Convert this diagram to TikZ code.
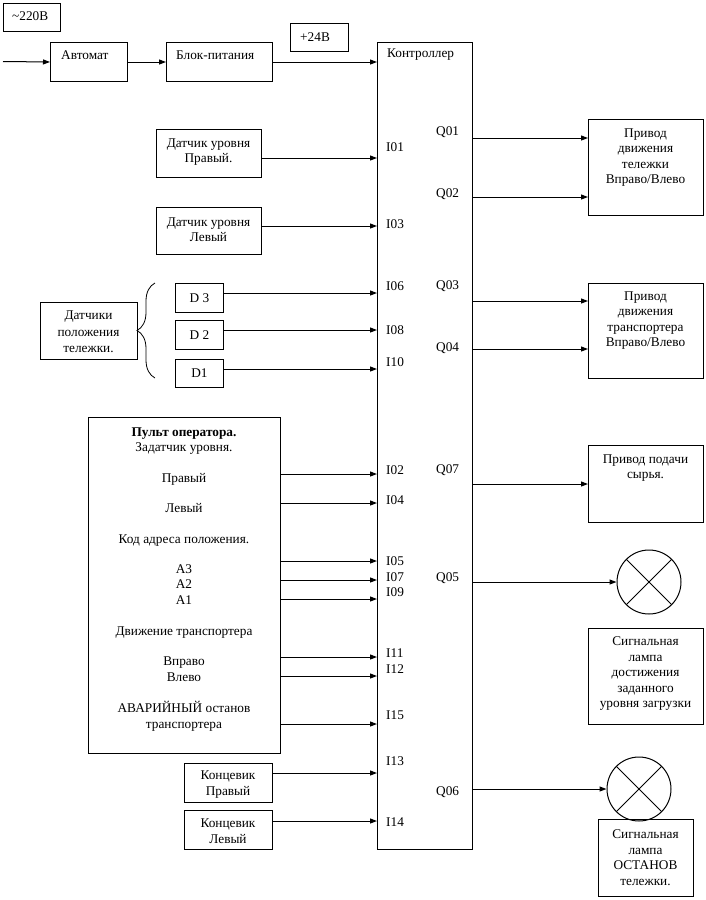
\documentclass[tikz,border=0pt]{standalone}
\usepackage{fontspec}
\setmainfont{Liberation Serif}
\usepackage{tikz}
\usetikzlibrary{arrows.meta, positioning, decorations.pathreplacing}

\tikzset{
  blk/.style={draw, line width=1pt, inner sep=0pt, anchor=north west},
  txt/.style={font=\fontsize{13.3}{15.5}\selectfont, inner sep=0pt, align=center},
  pin/.style={txt, anchor=west},
  arr/.style={line width=1pt, -{Triangle[length=7pt,width=5pt]}},
  lamp/.style={draw, line width=1pt, circle, minimum size=64pt, inner sep=0pt}
}

\begin{document}
\begin{tikzpicture}[x=1pt, y=-1pt]
  \useasboundingbox (0,0) rectangle (706,900);

  % Supply
  \node[blk, minimum width=57, minimum height=28] (v220) at (3,3) {};
  \node[txt, anchor=west] at (12,16) {\textasciitilde220В};
  \node[blk, minimum width=77, minimum height=39] (avt) at (50,42) {};
  \node[txt, anchor=west] at (61,55) {Автомат};
  \node[blk, minimum width=106, minimum height=39] (bp) at (166,42) {};
  \node[txt, anchor=west] at (176,55) {Блок-питания};
  \node[blk, minimum width=58, minimum height=28] (v24) at (290,23) {};
  \node[txt, anchor=west] at (300,37) {+24В};

  % Controller
  \node[blk, minimum width=95, minimum height=807] (ctrl) at (377,42) {};
  \node[txt, anchor=west] at (387,55) {Контроллер};

  \coordinate (mains) at (3,61.5);
  \draw[arr] (mains) -- (avt.west);
  \draw[arr] (avt.east) -- (bp.west);
  \draw[arr] (bp.east) -- (ctrl.west |- bp.east);

  % Level sensors
  \node[blk, minimum width=105, minimum height=48] (dup) at (156,129) {};
  \node[txt] at (208.5,152) {Датчик уровня\\Правый.};
  \node[blk, minimum width=105, minimum height=47] (dlv) at (156,207) {};
  \node[txt] at (208.5,229.5) {Датчик уровня\\Левый};
  \draw[arr] (dup.east |- 0,158) -- (ctrl.west |- 0,158);
  \draw[arr] (dlv.east |- 0,226) -- (ctrl.west |- 0,226);

  % Position sensors
  \node[blk, minimum width=97, minimum height=57] (dpol) at (40,302) {};
  \node[txt, font=\fontsize{13.3}{16.5}\selectfont] at (88.5,332) {Датчики\\положения\\тележки.};
  \node[blk, minimum width=48, minimum height=29] (d3) at (175,283) {};
  \node[txt] at (d3) {D 3};
  \node[blk, minimum width=48, minimum height=29] (d2) at (175,320) {};
  \node[txt] at (d2) {D 2};
  \node[blk, minimum width=48, minimum height=28] (d1) at (175,359) {};
  \node[txt] at (d1) {D1};
  \draw[line width=0.8pt, decorate, decoration={brace, amplitude=18pt}]
       (155,378) -- (155,283);
  \draw[arr] (d3.east |- 0,293) -- (ctrl.west |- 0,293);
  \draw[arr] (d2.east |- 0,330) -- (ctrl.west |- 0,330);
  \draw[arr] (d1.east |- 0,369) -- (ctrl.west |- 0,369);

  % Operator panel
  \node[blk, minimum width=192, minimum height=336] (pult) at (88,417) {};
  \node[txt, anchor=base, font=\fontsize{13.3}{15.5}\selectfont\bfseries] at (184,436) {Пульт оператора.};
  \foreach \t/\y in {Задатчик уровня./451, Правый/482, Левый/512,
                     Код адреса положения./543, A3/573, A2/588, A1/604,
                     Движение транспортера/635, Вправо/665, Влево/681,
                     АВАРИЙНЫЙ останов/712, транспортера/728}
    \node[txt, anchor=base] at (184,\y) {\t};
  \foreach \y in {474, 503, 561, 580, 599, 657, 676, 724}
    \draw[arr] (pult.east |- 0,\y) -- (ctrl.west |- 0,\y);

  % Limit switches
  \node[blk, minimum width=88, minimum height=39] (kpr) at (184,763) {};
  \node[txt] at (228,784.5) {Концевик\\Правый};
  \node[blk, minimum width=88, minimum height=39] (klv) at (184,810) {};
  \node[txt] at (228,831) {Концевик\\Левый};
  \draw[arr] (kpr.east |- 0,773) -- (ctrl.west |- 0,773);
  \draw[arr] (klv.east |- 0,821) -- (ctrl.west |- 0,821);

  % Input and output labels
  \foreach \t/\y in {I01/147, I03/224, I06/286, I08/330, I10/362, I02/470,
                     I04/500, I05/561, I07/577, I09/592, I11/653, I12/669,
                     I15/715, I13/761, I14/822}
    \node[pin] at (386,\y) {\t};
  \foreach \t/\y in {Q01/132, Q02/194, Q03/286, Q04/348, Q07/470,
                     Q05/578, Q06/792}
    \node[pin] at (436,\y) {\t};

  % Drives
  \node[blk, minimum width=115, minimum height=96] (prt) at (588,119) {};
  \node[txt] at (645.5,157.5) {Привод\\движения\\тележки\\Вправо/Влево};
  \node[blk, minimum width=115, minimum height=95] (prtr) at (588,283) {};
  \node[txt] at (645.5,320.5) {Привод\\движения\\транспортера\\Вправо/Влево};
  \node[blk, minimum width=115, minimum height=77] (prs) at (588,445) {};
  \node[txt] at (645.5,468) {Привод подачи\\сырья.};
  \draw[arr] (ctrl.east |- 0,138) -- (prt.west |- 0,138);
  \draw[arr] (ctrl.east |- 0,197) -- (prt.west |- 0,197);
  \draw[arr] (ctrl.east |- 0,301) -- (prtr.west |- 0,301);
  \draw[arr] (ctrl.east |- 0,349) -- (prtr.west |- 0,349);
  \draw[arr] (ctrl.east |- 0,484) -- (prs.west |- 0,484);

  % Signal lamps
  \node[lamp] (lamp1) at (649,582) {};
  \draw[line width=0.8pt] (lamp1.north east) -- (lamp1.south west)
                          (lamp1.north west) -- (lamp1.south east);
  \node[blk, minimum width=115, minimum height=96] (sig1) at (588,628) {};
  \node[txt] at (645.5,674) {Сигнальная\\лампа\\достижения\\заданного\\уровня загрузки};
  \draw[arr] (ctrl.east |- lamp1.west) -- (lamp1.west);

  \node[lamp] (lamp2) at (639,789) {};
  \draw[line width=0.8pt] (lamp2.north east) -- (lamp2.south west)
                          (lamp2.north west) -- (lamp2.south east);
  \node[blk, minimum width=95, minimum height=77] (sig2) at (598,819) {};
  \node[txt] at (645.5,857.5) {Сигнальная\\лампа\\ОСТАНОВ\\тележки.};
  \draw[arr] (ctrl.east |- lamp2.west) -- (lamp2.west);
\end{tikzpicture}
\end{document}
